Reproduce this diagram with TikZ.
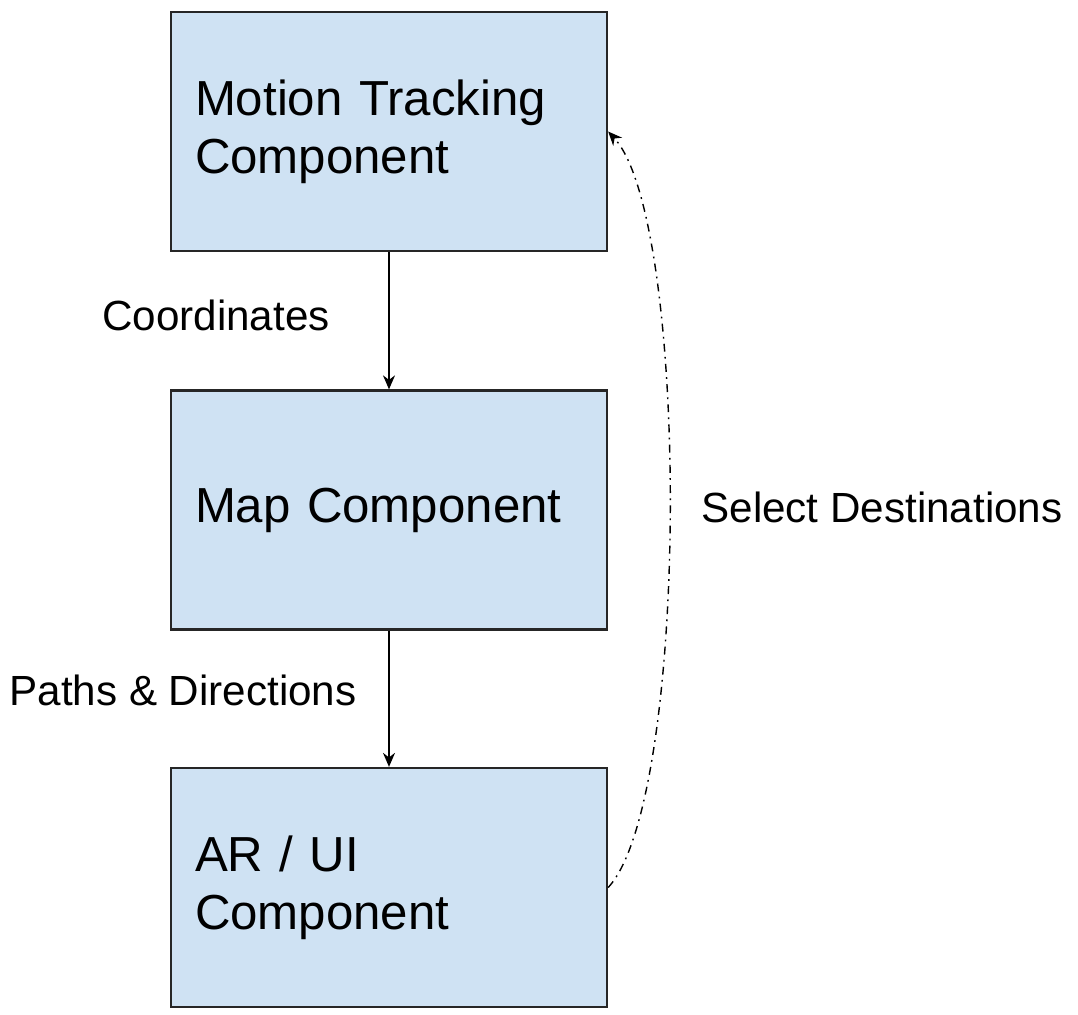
\documentclass[tikz,border=0pt]{standalone}
\usepackage{fontspec}
\setmainfont{Liberation Sans}
\usepackage{xcolor}
\usepackage{tikz}
\usetikzlibrary{positioning,calc,arrows.meta}

\definecolor{boxblue}{HTML}{CFE2F3}

\tikzset{
    compbox/.style={draw=black!85, line width=1.3pt, fill=boxblue,
        minimum width=8.72cm, minimum height=4.78cm, inner xsep=0.48cm,
        text width=7.76cm, align=left, font=\fontsize{28}{33}\selectfont},
    flowlabel/.style={font=\fontsize{24}{28}\selectfont},
    flow/.style={-{Stealth[length=0.28cm,width=0.24cm]}, line width=0.9pt}
}

\begin{document}
\begin{tikzpicture}
    \useasboundingbox (0,0) rectangle (21.56,-20.28);

    % Components
    \node[compbox] (motion) at (7.78,-2.63) {Motion Tracking\\Component};
    \node[compbox] (map) at (7.78,-10.2) {Map Component};
    \node[compbox] (arui) at (7.78,-17.75) {AR / UI\\Component};

    % Data flow
    \draw[flow] (motion) -- (map);
    \draw[flow] (map) -- (arui);
    \node[flowlabel] (coordlbl) at (4.32,-6.3) {Coordinates};
    \node[flowlabel] (pathlbl) at (3.66,-13.8) {Paths \& Directions};

    % Feedback
    \draw[flow, line width=0.8pt, dash pattern=on 4.5pt off 3pt on 1pt off 3pt]
        (arui.east) .. controls (13.8,-16) and (13.8,-4.4) .. (motion.east);
    \node[flowlabel] (selectlbl) at (17.64,-10.14) {Select Destinations};
\end{tikzpicture}
\end{document}
